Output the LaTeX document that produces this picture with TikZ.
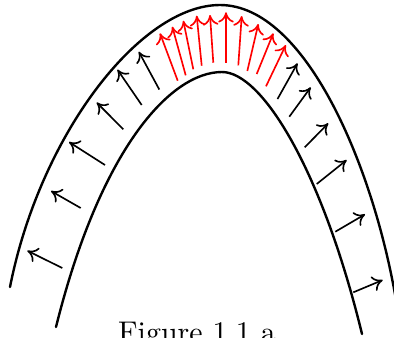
\documentclass[tikz,border=0pt]{standalone}
\usetikzlibrary{arrows.meta}
\begin{document}
\begin{tikzpicture}[x=0.334pt,y=-0.334pt,
  wall/.style={line width=0.8pt, line cap=round},
  vec/.style={-{To[length=3.4pt,width=5.2pt]}, line width=0.55pt},
  redvec/.style={vec, red}]
\useasboundingbox (0,0) rectangle (394,337);
\clip (0,0) rectangle (394,337);
% outer boundary
\draw[wall] (10,287) .. controls (40,135) and (140,5) .. (220,5)
                     .. controls (305,5) and (373,165) .. (396,300);
% inner boundary
\draw[wall] (56,327) .. controls (100,150) and (170,72) .. (222,72)
                     .. controls (262,72) and (322,170) .. (362,334);
% left black arrows
\draw[vec] (62.3,268) -- (27.3,250.7);
\draw[vec] (80.7,208) -- (51,191);
\draw[vec] (105,165) -- (69,142);
\draw[vec] (123.3,129.3) -- (96.7,102.5);
\draw[vec] (141.7,105) -- (117.5,69.7);
\draw[vec] (159.3,89.5) -- (138.8,51.7);
% red arrows
\draw[redvec] (177.7,80.7) -- (160,33.3);
\draw[redvec] (185.7,75.3) -- (172.3,26.7);
\draw[redvec] (193.3,69.3) -- (183.3,20.7);
\draw[redvec] (201.7,65.7) -- (196.7,15.7);
\draw[redvec] (213.3,62.7) -- (210,15);
\draw[redvec] (226,62.7) -- (226,12.3);
\draw[redvec] (238.3,65.3) -- (241.7,16);
\draw[redvec] (247.3,71) -- (258.3,24);
\draw[redvec] (256.7,74) -- (273.3,33.3);
\draw[redvec] (266,86.3) -- (285.8,45);
% right black arrows
\draw[vec] (277.5,99) -- (297.5,63.3);
\draw[vec] (289.3,116.7) -- (310.7,87.3);
\draw[vec] (304.7,147.3) -- (328.3,123.3);
\draw[vec] (316.7,184) -- (346.7,160);
\draw[vec] (335.3,231.7) -- (365,214.3);
\draw[vec] (353.3,292.3) -- (382.7,280);
% caption
\node[anchor=base, inner sep=0pt] (cap) at (197,342) {Figure 1.1 a};
\end{tikzpicture}
\end{document}
